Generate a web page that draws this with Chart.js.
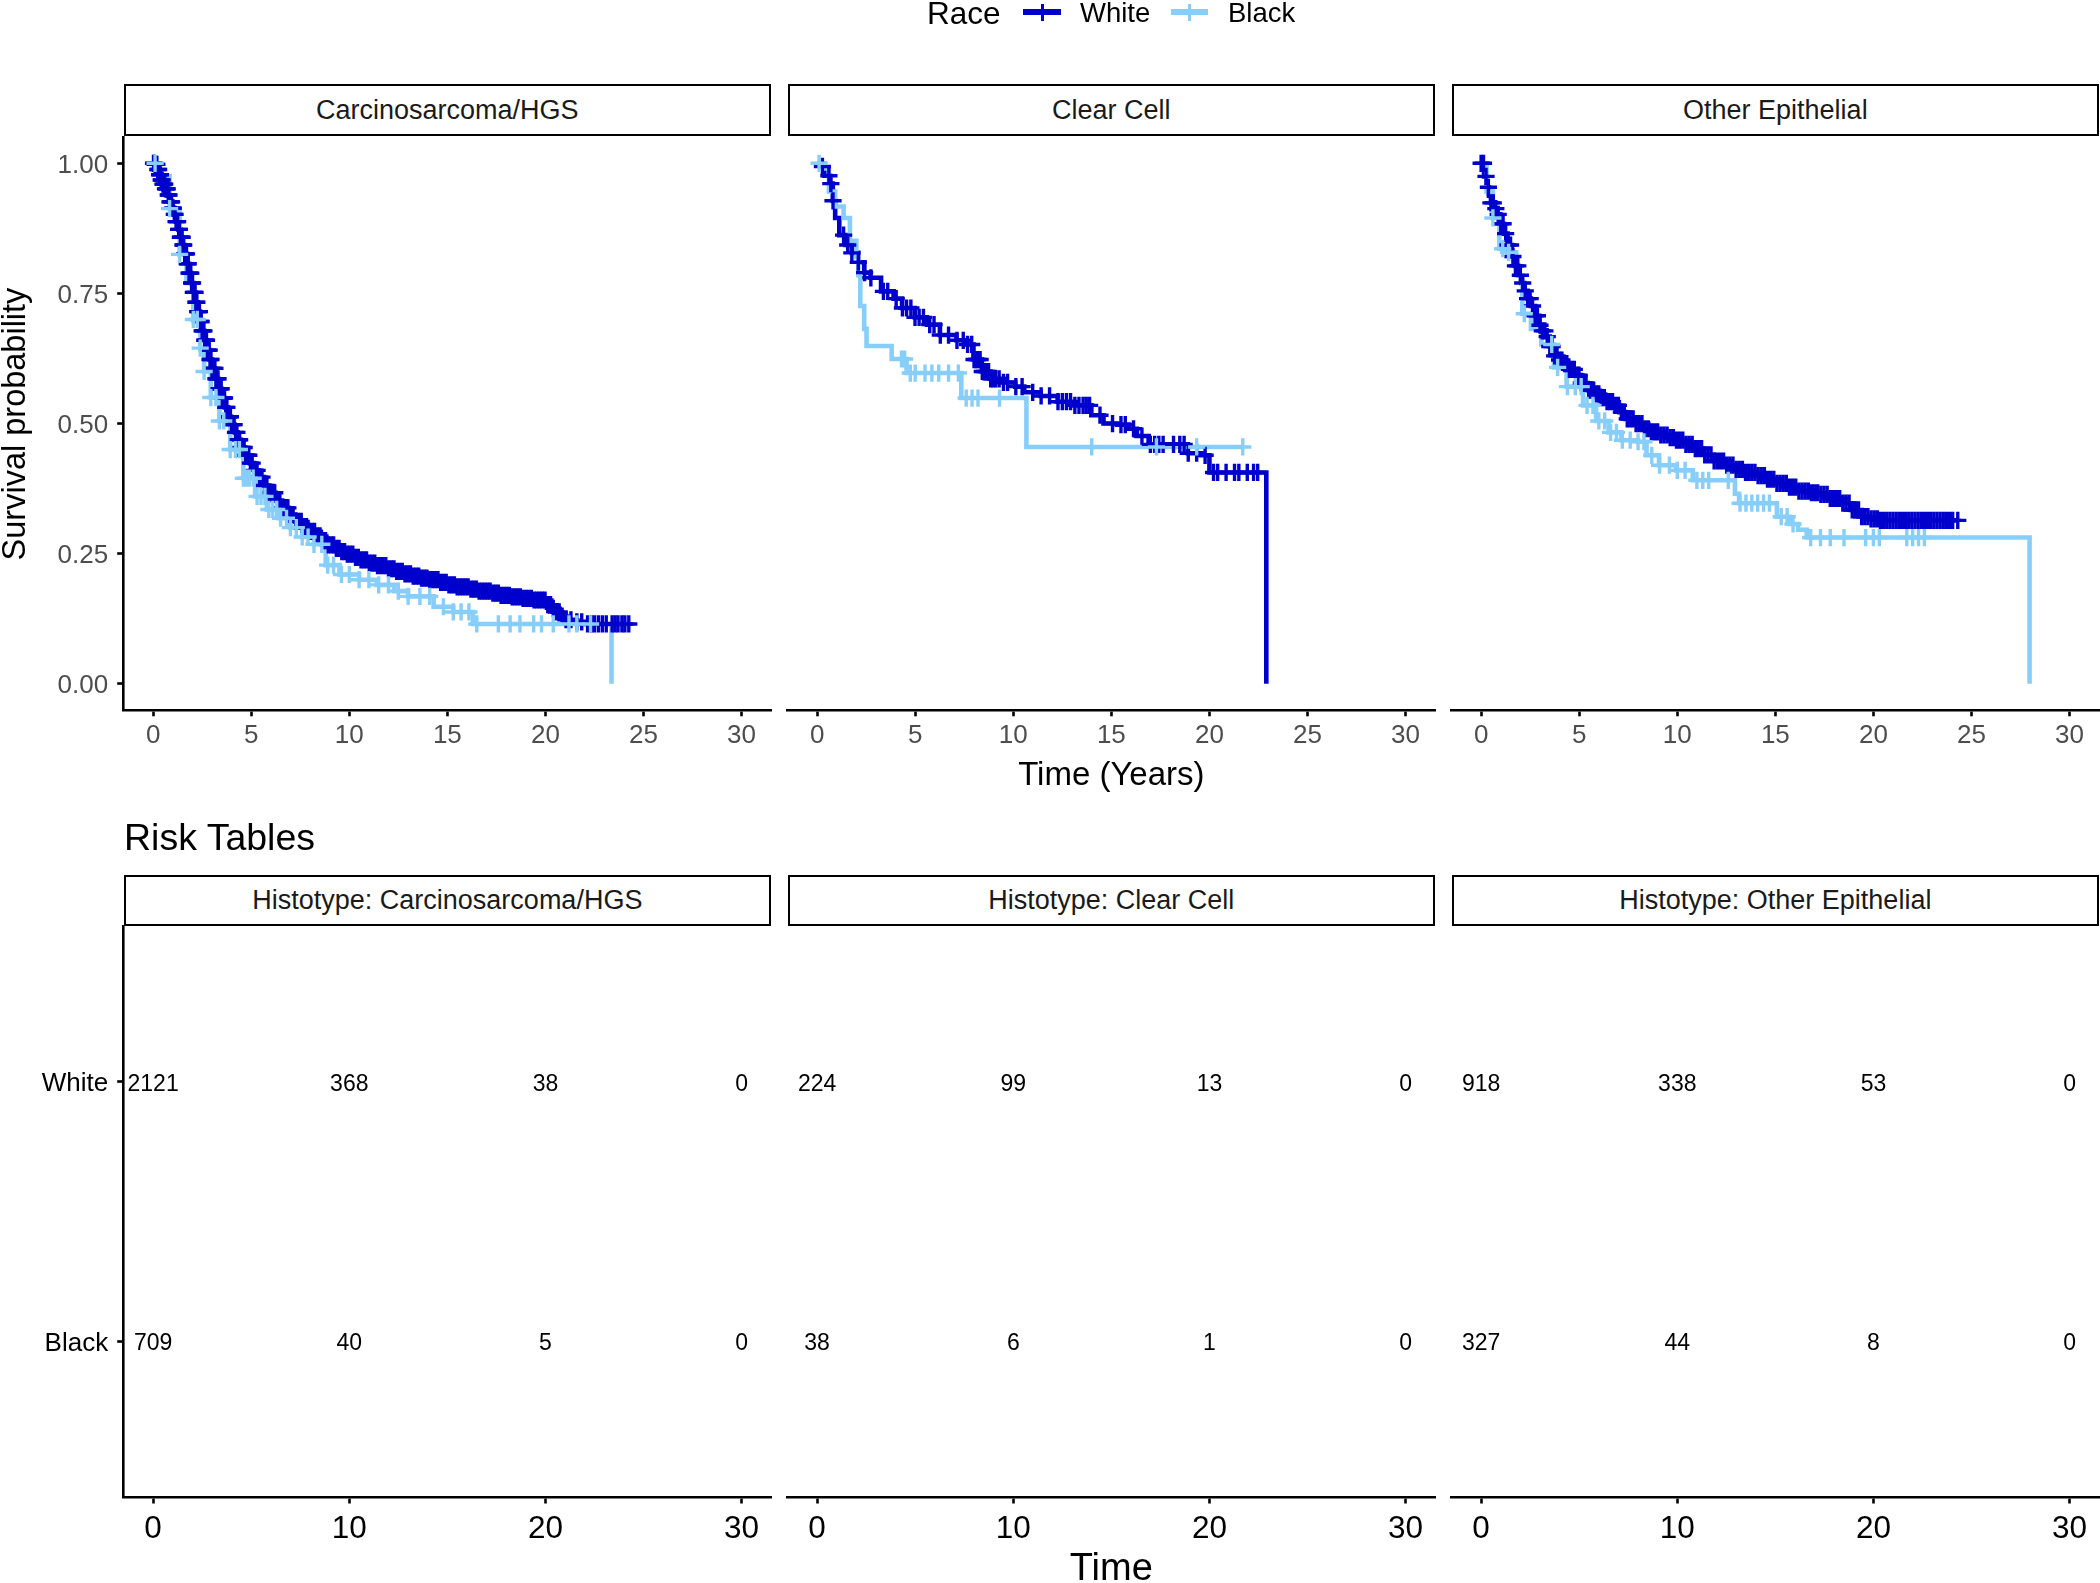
<!DOCTYPE html>
<html>
<head>
<meta charset="utf-8">
<title>Survival by race and histotype</title>
<script src="https://cdn.jsdelivr.net/npm/chart.js@4.4.1/dist/chart.umd.min.js"></script>
<style>
html,body{margin:0;padding:0;background:#fff;}
#wrap{position:relative;width:2100px;height:1583px;overflow:hidden;background:#fff;font-family:'Liberation Sans',Arial,Helvetica,sans-serif;}
#wrap canvas{position:absolute;left:0;top:0;}
.txt{position:absolute;white-space:nowrap;color:#000;z-index:10;}
.strip{position:absolute;box-sizing:border-box;border:2px solid #000;background:#fff;text-align:center;color:#1a1a1a;z-index:10;white-space:nowrap;}
.key{position:absolute;z-index:10;}
</style>
</head>
<body>
<div id="wrap"></div>
<script>
// ================= DATA =================
const panelTitles = ['Carcinosarcoma/HGS', 'Clear Cell', 'Other Epithelial'];
const riskTitles = ['Histotype: Carcinosarcoma/HGS', 'Histotype: Clear Cell', 'Histotype: Other Epithelial'];
const groupNames = ['White', 'Black'];
const legendTitle = 'Race';
const xTicksTop = [0, 5, 10, 15, 20, 25, 30];
const yTicks = [0, 0.25, 0.5, 0.75, 1];
const yTickLabels = ['0.00', '0.25', '0.50', '0.75', '1.00'];
const riskTimes = [0, 10, 20, 30];
const riskWhite = [[2121, 368, 38, 0], [224, 99, 13, 0], [918, 338, 53, 0]];
const riskBlack = [[709, 40, 5, 0], [38, 6, 1, 0], [327, 44, 8, 0]];
const riskRowValue = [2, 1]; // White row above Black row

// --- Carcinosarcoma/HGS ---
const hgsWhiteT = [0, 0.07, 0.2, 0.3, 0.4, 0.5, 0.6, 0.73, 0.85, 0.95, 1.06, 1.17, 1.28, 1.39, 1.5, 1.6, 1.72, 1.83, 1.94, 2.05, 2.16, 2.27, 2.39, 2.5, 2.61, 2.74, 2.87, 3.0, 3.16, 3.32, 3.49, 3.65, 3.82, 3.98, 4.15, 4.3, 4.48, 4.7, 4.93, 5.15, 5.37, 5.65, 5.92, 6.25, 6.58, 6.9, 7.25, 7.58, 7.91, 8.24, 8.57, 8.9, 9.23, 9.56, 9.9, 10.23, 10.56, 11.0, 11.44, 11.9, 12.33, 12.76, 13.2, 13.65, 14.1, 14.55, 14.98, 15.5, 16.08, 16.6, 17.19, 17.7, 18.29, 18.8, 19.4, 20.06, 20.3, 20.5, 20.8, 21.05, 21.5, 22.05, 24.25];
const hgsWhiteS = [1, 0.998, 0.988, 0.978, 0.968, 0.96, 0.951, 0.939, 0.926, 0.914, 0.902, 0.888, 0.873, 0.858, 0.843, 0.826, 0.807, 0.789, 0.77, 0.752, 0.733, 0.715, 0.696, 0.678, 0.66, 0.641, 0.623, 0.606, 0.586, 0.567, 0.549, 0.531, 0.513, 0.498, 0.483, 0.469, 0.454, 0.439, 0.424, 0.41, 0.397, 0.381, 0.367, 0.352, 0.338, 0.325, 0.312, 0.302, 0.293, 0.284, 0.275, 0.267, 0.26, 0.254, 0.249, 0.243, 0.238, 0.232, 0.227, 0.221, 0.216, 0.211, 0.207, 0.203, 0.2, 0.195, 0.19, 0.186, 0.182, 0.178, 0.174, 0.17, 0.167, 0.164, 0.161, 0.152, 0.145, 0.138, 0.13, 0.123, 0.119, 0.115, 0.115];
const hgsWhiteCens = [0.02, 0.06, 0.1, 0.15, 0.19, 0.24, 0.28, 0.33, 0.37, 0.41, 0.46, 0.5, 0.55, 0.59, 0.63, 0.68, 0.72, 0.77, 0.81, 0.86, 0.9, 0.94, 0.99, 1.03, 1.08, 1.12, 1.17, 1.21, 1.25, 1.3, 1.34, 1.39, 1.43, 1.48, 1.52, 1.56, 1.61, 1.65, 1.7, 1.74, 1.79, 1.83, 1.87, 1.92, 1.96, 2.01, 2.05, 2.1, 2.14, 2.18, 2.23, 2.27, 2.32, 2.36, 2.41, 2.45, 2.5, 2.54, 2.59, 2.63, 2.68, 2.72, 2.77, 2.81, 2.86, 2.9, 2.95, 3.0, 3.05, 3.1, 3.15, 3.2, 3.26, 3.31, 3.36, 3.42, 3.47, 3.53, 3.58, 3.64, 3.7, 3.76, 3.82, 3.88, 3.94, 4.0, 4.07, 4.13, 4.2, 4.27, 4.34, 4.41, 4.48, 4.56, 4.64, 4.72, 4.8, 4.88, 4.96,
  5.05, 5.17, 5.3, 5.42, 5.55, 5.68, 5.8, 5.93, 6.06, 6.2, 6.33, 6.46, 6.6, 6.73, 6.87, 7.0, 7.14, 7.27, 7.41, 7.55, 7.68, 7.82, 7.96, 8.1, 8.23, 8.37, 8.51, 8.65, 8.79, 8.93, 9.07, 9.2, 9.34, 9.48, 9.62, 9.76, 9.9, 10.04, 10.18, 10.32, 10.46, 10.6, 10.74, 10.88, 11.02, 11.16, 11.3, 11.44, 11.58, 11.72, 11.86, 12.0, 12.14, 12.28, 12.42, 12.56, 12.7, 12.84, 12.98, 13.12, 13.26, 13.4, 13.54, 13.68, 13.82, 13.96, 14.1, 14.24, 14.38, 14.52, 14.66, 14.8, 14.94, 15.08, 15.22, 15.36, 15.5, 15.64, 15.78, 15.92, 16.06, 16.2, 16.34, 16.48, 16.62, 16.76, 16.9, 17.04, 17.18, 17.32, 17.46, 17.6, 17.74, 17.88, 18.02, 18.16, 18.3, 18.44, 18.58, 18.72, 18.86, 19.0, 19.14, 19.28, 19.42, 19.56, 19.7, 19.84, 19.98, 20.12, 20.26, 20.4, 20.55, 20.7, 20.85,
  21.05, 21.3, 21.6, 21.85, 22.15, 22.35, 22.5, 22.7, 22.9, 23.1, 23.4, 23.55, 23.7, 23.9, 24.05, 24.25];
const hgsBlackT = [0, 0.3, 0.84, 1.35, 1.7, 2.05, 2.4, 2.6, 2.94, 3.38, 3.93, 4.6, 5.2, 5.8, 6.4, 7.0, 7.6, 8.2, 8.8, 9.5, 10.5, 11.4, 12.3, 13.0, 14.3, 15.3, 16.3, 23.37];
const hgsBlackS = [1, 0.975, 0.913, 0.825, 0.77, 0.70, 0.645, 0.60, 0.55, 0.505, 0.45, 0.395, 0.36, 0.335, 0.318, 0.30, 0.282, 0.268, 0.228, 0.21, 0.2, 0.19, 0.178, 0.168, 0.148, 0.138, 0.115, 0];
const hgsBlackCens = [0.1, 0.84, 1.35, 2.05, 2.25, 2.4, 2.6, 2.94, 3.2, 3.38, 3.6, 3.93, 4.2, 4.4, 4.6, 4.75, 4.9, 5.1, 5.3, 5.5, 5.7, 5.9, 6.1, 6.3, 6.5, 6.8, 7.0, 7.3, 7.6, 7.9, 8.2, 8.6, 8.9, 9.2, 9.6, 10.0, 10.5, 11.0, 11.5, 12.0, 12.5, 13.0, 13.6, 14.1, 14.8, 15.3, 15.7, 16.1, 16.5, 17.6, 18.2, 18.7, 19.4, 19.8, 20.4, 21.2, 21.6, 22.3];

// --- Clear Cell ---
const ccWhiteT = [0, 0.27, 0.38, 0.66, 0.8, 0.92, 1.13, 1.45, 1.77, 2.1, 2.4, 2.72, 3.26, 3.9, 4.33, 4.98, 5.6, 6.26, 7.1, 7.54, 7.97, 8.4, 8.83, 9.5, 10.1, 10.56, 11.4, 12.26, 13.1, 13.98, 14.6, 15.3, 15.9, 16.3, 16.9, 18.9, 19.57, 20.0, 22.9];
const ccWhiteS = [1, 0.994, 0.976, 0.961, 0.928, 0.895, 0.862, 0.843, 0.828, 0.81, 0.79, 0.78, 0.754, 0.74, 0.722, 0.704, 0.69, 0.67, 0.66, 0.652, 0.623, 0.60, 0.586, 0.579, 0.571, 0.56, 0.553, 0.542, 0.535, 0.516, 0.50, 0.498, 0.49, 0.476, 0.46, 0.443, 0.439, 0.406, 0];
const ccWhiteCens = [0.27, 0.6, 0.7, 0.81, 1.35, 1.56, 1.77, 2.1, 2.42, 2.74, 3.38, 3.6, 4.03, 4.35, 4.56, 4.78, 4.99, 5.2, 5.42, 5.74, 5.96, 6.28, 6.7, 7.13, 7.45, 7.67, 7.88, 8.0, 8.1, 8.2, 8.31, 8.42, 8.53, 8.64, 8.74, 8.85, 8.96, 9.1, 9.28, 9.5, 9.71, 10.13, 10.45, 10.99, 11.42, 11.85, 12.28, 12.5, 12.71, 12.92, 13.14, 13.35, 13.56, 13.72, 13.89, 14.42, 15.06, 15.49, 15.71, 16.13, 16.56, 16.99, 17.21, 17.42, 17.64, 18.17, 18.49, 18.71, 18.92, 19.35, 19.78, 20.21, 20.42, 20.85, 21.28, 21.5, 21.93, 22.25, 22.46];
const ccBlackT = [0, 0.38, 0.6, 0.92, 1.35, 1.67, 2.0, 2.1, 2.2, 2.4, 2.52, 3.8, 4.56, 7.35, 10.67, 21.7];
const ccBlackS = [1, 0.99, 0.946, 0.917, 0.895, 0.851, 0.82, 0.785, 0.726, 0.682, 0.649, 0.624, 0.597, 0.549, 0.455, 0.455];
const ccBlackCens = [0.1, 4.3, 4.46, 4.75, 5.0, 5.5, 5.85, 6.2, 6.7, 7.2, 7.6, 7.9, 8.2, 9.3, 14.0, 17.3, 19.35, 21.7];

// --- Other Epithelial ---
const oeWhiteT = [0, 0.15, 0.28, 0.4, 0.5, 0.65, 0.82, 0.98, 1.14, 1.35, 1.57, 1.73, 1.89, 2.05, 2.2, 2.37, 2.54, 2.75, 2.97, 3.12, 3.28, 3.5, 3.71, 3.92, 4.14, 4.45, 4.78, 5.1, 5.43, 5.75, 6.07, 6.4, 6.72, 7.04, 7.36, 7.8, 8.22, 8.65, 9.07, 9.5, 9.93, 10.36, 10.79, 11.3, 11.86, 12.4, 12.94, 13.47, 14.0, 14.54, 15.08, 15.6, 16.16, 16.7, 17.2, 17.75, 18.3, 18.85, 19.4, 19.8, 20.23, 24.3];
const oeWhiteS = [1, 0.975, 0.954, 0.938, 0.924, 0.913, 0.902, 0.884, 0.865, 0.843, 0.821, 0.803, 0.785, 0.77, 0.755, 0.74, 0.726, 0.707, 0.689, 0.678, 0.667, 0.648, 0.63, 0.622, 0.615, 0.604, 0.593, 0.578, 0.564, 0.557, 0.55, 0.542, 0.535, 0.522, 0.509, 0.5, 0.49, 0.484, 0.478, 0.473, 0.468, 0.46, 0.452, 0.44, 0.428, 0.42, 0.412, 0.406, 0.4, 0.393, 0.385, 0.378, 0.37, 0.367, 0.364, 0.356, 0.347, 0.334, 0.321, 0.317, 0.314, 0.314];
const oeWhiteCens = [0.0, 0.12, 0.25, 0.37, 0.5, 0.62, 0.75, 0.87, 1.0, 1.12, 1.25, 1.37, 1.5, 1.62, 1.75, 1.87, 2.0, 2.12, 2.25, 2.37, 2.5, 2.62, 2.75, 2.87, 3.0, 3.12, 3.25, 3.37, 3.5, 3.62, 3.75, 3.87, 4.0, 4.12, 4.25, 4.37, 4.5, 4.62, 4.75, 4.87, 4.99, 5.11, 5.23, 5.35, 5.48, 5.61, 5.74, 5.87, 6.0, 6.14, 6.28, 6.42, 6.56, 6.7, 6.85, 7.0, 7.15, 7.3, 7.45, 7.6, 7.75, 7.9, 8.05, 8.2, 8.36, 8.52, 8.68, 8.84, 9.0, 9.16, 9.32, 9.48, 9.64, 9.8, 9.96, 10.12, 10.28, 10.44, 10.6, 10.76, 10.92, 11.08, 11.24, 11.4, 11.56, 11.72, 11.88, 12.04, 12.2, 12.36, 12.52, 12.68, 12.84, 13.0, 13.16, 13.32, 13.48, 13.64, 13.8, 13.96, 14.12, 14.28, 14.44, 14.6, 14.76, 14.92, 15.08, 15.24, 15.4, 15.56, 15.72, 15.88, 16.04, 16.2, 16.36, 16.52, 16.68, 16.84, 17.0, 17.16, 17.32, 17.48, 17.64, 17.8, 17.96, 18.12, 18.28, 18.44, 18.6, 18.76, 18.92, 19.08, 19.24, 19.4, 19.56, 19.72, 19.88, 20.04, 20.2, 20.36, 20.52, 20.68, 20.84, 21.0, 21.16, 21.32, 21.48, 21.64, 21.8, 21.96, 22.12, 22.28, 22.44, 22.6, 22.76, 22.92, 23.08, 23.24, 23.4, 23.56, 23.72, 23.88, 24.04, 24.3];
const oeBlackT = [0, 0.28, 0.6, 0.93, 1.36, 1.79, 2.1, 2.54, 3.07, 3.71, 4.36, 5.2, 5.86, 6.5, 7.15, 8.0, 8.43, 9.07, 9.93, 10.79, 12.94, 13.15, 15.08, 15.73, 16.16, 16.6, 27.96];
const oeBlackS = [1, 0.946, 0.895, 0.836, 0.829, 0.785, 0.711, 0.682, 0.652, 0.608, 0.571, 0.535, 0.505, 0.483, 0.468, 0.465, 0.439, 0.42, 0.41, 0.391, 0.365, 0.347, 0.321, 0.307, 0.296, 0.281, 0];
const oeBlackCens = [0.6, 1.1, 1.4, 2.2, 3.6, 3.9, 4.4, 4.8, 5.1, 5.4, 5.7, 6.0, 6.3, 6.6, 6.9, 7.2, 7.6, 8.0, 8.3, 8.7, 9.1, 9.6, 10.0, 10.4, 11.0, 11.3, 11.6, 12.6, 13.2, 13.5, 13.8, 14.1, 14.4, 14.7, 15.3, 15.6, 15.9, 16.8, 17.3, 17.8, 18.5, 19.6, 20.0, 20.3, 21.7, 22.0, 22.3, 22.6];

// ================= STYLE / LAYOUT =================
const FONT = "'Liberation Sans', Arial, Helvetica, sans-serif";
const COLORS = { White: '#0000CD', Black: '#87CEFA' };
const AREA_X = [[123.7, 771], [787.7, 1435], [1451.7, 2099]];
const TOP_Y = [137.3, 709.8];
const RISK_Y = [926, 1497];
const W = 2100, H = 1583;

const curves = [
  { White: { t: hgsWhiteT, s: hgsWhiteS, c: hgsWhiteCens }, Black: { t: hgsBlackT, s: hgsBlackS, c: hgsBlackCens } },
  { White: { t: ccWhiteT, s: ccWhiteS, c: ccWhiteCens }, Black: { t: ccBlackT, s: ccBlackS, c: ccBlackCens } },
  { White: { t: oeWhiteT, s: oeWhiteS, c: oeWhiteCens }, Black: { t: oeBlackT, s: oeBlackS, c: oeBlackCens } }
];
const riskCounts = { White: riskWhite, Black: riskBlack };

const wrap = document.getElementById('wrap');

// KM value in effect at time t (step lookup on the curve)
function kmAt(T, S, t) {
  let v = S[0];
  for (let i = 0; i < T.length; i++) { if (T[i] <= t) v = S[i]; else break; }
  return v;
}

function makeCanvas() {
  const c = document.createElement('canvas');
  c.width = W; c.height = H;
  c.style.width = W + 'px'; c.style.height = H + 'px';
  wrap.appendChild(c);
  return c;
}

function axisGrid() {
  return { display: true, drawOnChartArea: false, drawTicks: true, tickLength: 6.5, tickColor: '#000', tickWidth: 2.6, color: '#000' };
}
function axisBorder() { return { display: true, color: '#000', width: 2.6 }; }

function topChart(p) {
  const [L, R] = AREA_X[p];
  const [T, B] = TOP_Y;
  const first = p === 0;
  const yW = first ? L : 0;
  const xH = 60;
  const cv = curves[p];
  const datasets = [];
  groupNames.forEach((g, gi) => {
    const k = cv[g];
    datasets.push({
      type: 'line', label: g,
      data: k.t.map((t, i) => ({ x: t, y: k.s[i] })),
      stepped: true, borderColor: COLORS[g], backgroundColor: COLORS[g],
      borderWidth: 4.6, pointRadius: 0, pointHoverRadius: 0, fill: false,
      borderCapStyle: 'butt', borderJoinStyle: 'miter', order: 4 - gi
    });
  });
  groupNames.forEach((g, gi) => {
    const k = cv[g];
    datasets.push({
      type: 'scatter', label: g + ' (censored)',
      data: k.c.map(t => ({ x: t, y: kmAt(k.t, k.s, t) })),
      showLine: false, pointStyle: 'cross', pointRadius: 8.6, pointHoverRadius: 8.6,
      borderWidth: 3.4, pointBorderWidth: 3.4, borderColor: COLORS[g], pointBorderColor: COLORS[g],
      backgroundColor: COLORS[g], order: 2 - gi
    });
  });
  new Chart(makeCanvas(), {
    type: 'scatter',
    data: { datasets },
    options: {
      responsive: false, animation: false, devicePixelRatio: 1, events: [],
      layout: { autoPadding: false, padding: { left: L - yW, right: W - R, top: T, bottom: H - B - xH } },
      plugins: { legend: { display: false }, tooltip: { enabled: false } },
      scales: {
        x: {
          type: 'linear', position: 'bottom', min: -1.5, max: 31.5,
          afterBuildTicks: s => { s.ticks = xTicksTop.map(v => ({ value: v })); },
          afterFit: s => { s.height = xH; s.paddingLeft = 0; s.paddingRight = 0; },
          grid: axisGrid(), border: axisBorder(),
          ticks: { color: '#4D4D4D', font: { family: FONT, size: 26 }, padding: 4, maxRotation: 0, autoSkip: false }
        },
        y: {
          type: 'linear', position: 'left', min: -0.05, max: 1.05, display: first,
          afterBuildTicks: s => { s.ticks = yTicks.map(v => ({ value: v })); },
          afterFit: s => { if (first) s.width = yW; s.paddingTop = 0; s.paddingBottom = 0; },
          grid: axisGrid(), border: axisBorder(),
          ticks: { color: '#4D4D4D', font: { family: FONT, size: 26 }, padding: 9, autoSkip: false, labelOffset: 2.5,
                   callback: (v) => yTickLabels[yTicks.indexOf(v)] }
        }
      }
    }
  });
}

const riskTextPlugin = {
  id: 'riskText',
  afterDatasetsDraw(chart) {
    const ctx = chart.ctx;
    ctx.save();
    ctx.font = '23px ' + FONT;
    ctx.fillStyle = '#000';
    ctx.textAlign = 'center';
    ctx.textBaseline = 'middle';
    chart.data.datasets.forEach((ds, di) => {
      const meta = chart.getDatasetMeta(di);
      meta.data.forEach((el, i) => { ctx.fillText(String(ds.data[i].n), el.x, el.y + 2.5); });
    });
    ctx.restore();
  }
};

function riskChart(p) {
  const [L, R] = AREA_X[p];
  const [T, B] = RISK_Y;
  const first = p === 0;
  const yW = first ? L : 0;
  const xH = 70;
  const datasets = groupNames.map((g, gi) => ({
    type: 'scatter', label: g,
    data: riskTimes.map((t, i) => ({ x: t, y: riskRowValue[gi], n: riskCounts[g][p][i] })),
    pointRadius: 0, pointHoverRadius: 0, showLine: false
  }));
  new Chart(makeCanvas(), {
    type: 'scatter',
    data: { datasets },
    plugins: [riskTextPlugin],
    options: {
      responsive: false, animation: false, devicePixelRatio: 1, events: [],
      layout: { autoPadding: false, padding: { left: L - yW, right: W - R, top: T, bottom: H - B - xH } },
      plugins: { legend: { display: false }, tooltip: { enabled: false } },
      scales: {
        x: {
          type: 'linear', position: 'bottom', min: -1.5, max: 31.5,
          afterBuildTicks: s => { s.ticks = riskTimes.map(v => ({ value: v })); },
          afterFit: s => { s.height = xH; s.paddingLeft = 0; s.paddingRight = 0; },
          grid: axisGrid(), border: axisBorder(),
          ticks: { color: '#000', font: { family: FONT, size: 31.5 }, padding: 7, maxRotation: 0, autoSkip: false }
        },
        y: {
          type: 'linear', position: 'left', min: 0.4, max: 2.6, display: first,
          afterBuildTicks: s => { s.ticks = [1, 2].map(v => ({ value: v })); },
          afterFit: s => { if (first) s.width = yW; s.paddingTop = 0; s.paddingBottom = 0; },
          grid: axisGrid(), border: axisBorder(),
          ticks: { color: '#000', font: { family: FONT, size: 26 }, padding: 9, autoSkip: false, labelOffset: 2.5,
                   callback: (v) => groupNames[riskRowValue.indexOf(v)] }
        }
      }
    }
  });
}

// ================= TEXT / DECORATION =================
function addText(text, opts) {
  const d = document.createElement('div');
  d.className = 'txt';
  d.textContent = text;
  const h = opts.h || 50;
  d.style.fontSize = opts.size + 'px';
  d.style.height = h + 'px';
  d.style.lineHeight = h + 'px';
  d.style.top = (opts.cy - h / 2) + 'px';
  if (opts.color) d.style.color = opts.color;
  if (opts.align === 'center') {
    const w = 1200;
    d.style.width = w + 'px';
    d.style.textAlign = 'center';
    d.style.left = (opts.x - w / 2) + 'px';
  } else {
    d.style.left = opts.x + 'px';
  }
  if (opts.rotate) d.style.transform = 'rotate(' + opts.rotate + 'deg)';
  wrap.appendChild(d);
  return d;
}

function addStrip(text, left, right, top, bottom) {
  const d = document.createElement('div');
  d.className = 'strip';
  d.style.left = left + 'px';
  d.style.top = top + 'px';
  d.style.width = (right - left) + 'px';
  d.style.height = (bottom - top) + 'px';
  d.style.lineHeight = (bottom - top - 4) + 'px';
  d.style.fontSize = '27px';
  d.textContent = text;
  wrap.appendChild(d);
}

function addBox(left, top, w, h, color) {
  const d = document.createElement('div');
  d.className = 'key';
  d.style.left = left + 'px'; d.style.top = top + 'px';
  d.style.width = w + 'px'; d.style.height = h + 'px';
  d.style.background = color;
  wrap.appendChild(d);
}

function legendKey(x0, x1, cy, color) {
  addBox(x0, cy - 3, x1 - x0, 6, color);
  const cx = (x0 + x1) / 2;
  addBox(cx - 1.5, cy - 8.5, 3, 17, color);
}

// ================= BUILD =================
for (let p = 0; p < 3; p++) { topChart(p); riskChart(p); }

for (let p = 0; p < 3; p++) {
  const [L, R] = AREA_X[p];
  addStrip(panelTitles[p], L, R, 84, 136);
  addStrip(riskTitles[p], L, R, 875, 926);
}

// legend
addText(legendTitle, { x: 927, cy: 13, size: 31.5 });
legendKey(1023, 1061, 12, COLORS.White);
addText(groupNames[0], { x: 1080, cy: 13, size: 27.5 });
legendKey(1171, 1208, 12, COLORS.Black);
addText(groupNames[1], { x: 1228, cy: 13, size: 27.5 });

// axis titles
addText('Survival probability', { x: 14, cy: 423.5, size: 32.5, align: 'center', rotate: -90, h: 40 });
addText('Time (Years)', { x: (AREA_X[1][0] + AREA_X[1][1]) / 2, cy: 774, size: 33, align: 'center' });
addText('Risk Tables', { x: 124, cy: 837, size: 37.5 });
addText('Time', { x: (AREA_X[1][0] + AREA_X[1][1]) / 2, cy: 1567, size: 38, align: 'center' });
</script>
</body>
</html>
